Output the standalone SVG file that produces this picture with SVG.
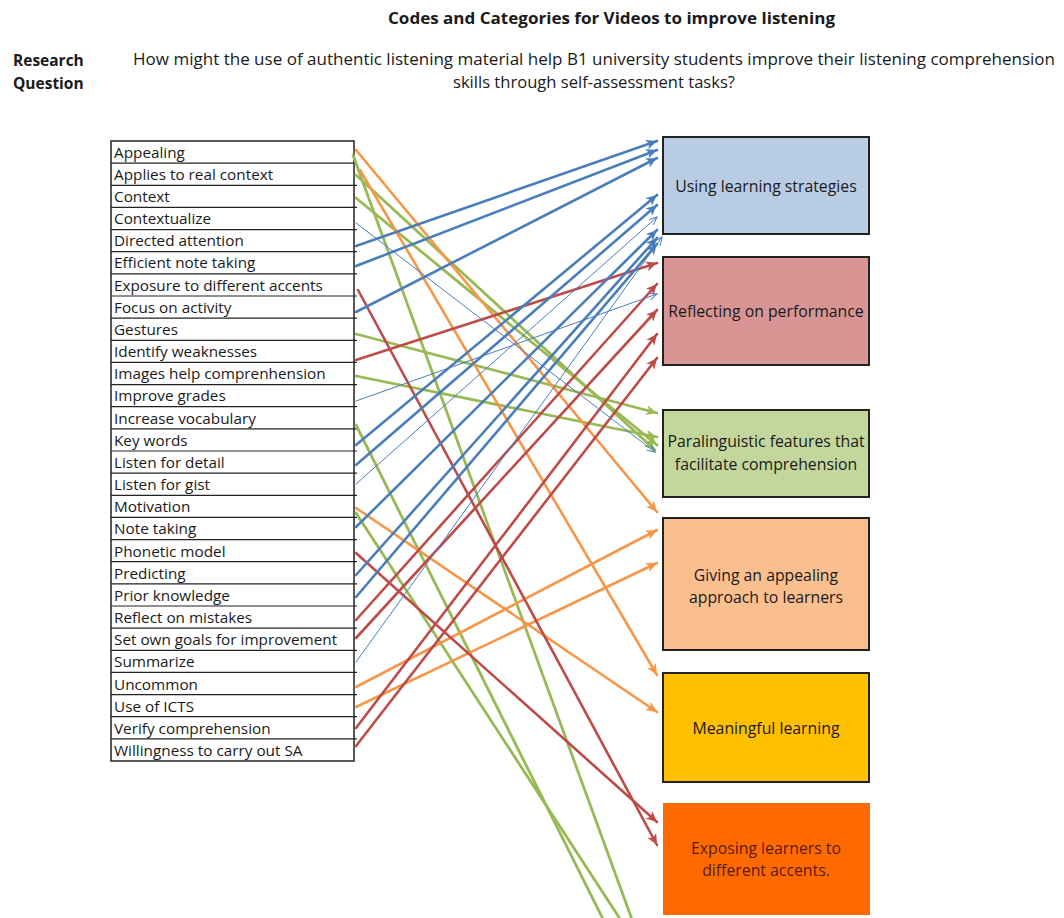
<svg xmlns="http://www.w3.org/2000/svg" width="1064" height="918" viewBox="0 0 1064 918">
<style>
.t{font-family:"Open Sans","Liberation Sans",sans-serif;fill:#1a1a1a}
.code{font-size:15.3px}
.bold{font-weight:bold}
.cat{font-size:15.8px;text-anchor:middle}
.sep{stroke:#222;stroke-width:1.2}
.box{stroke:#222;stroke-width:2}
.c{fill:none;stroke-linecap:round}
.b{stroke:#4a7ebb;stroke-width:2.6}
.bt{stroke:#4a7ebb;stroke-width:1}
.r{stroke:#be4b48;stroke-width:2.6}
.g{stroke:#98b954;stroke-width:2.8}
.o{stroke:#f79646;stroke-width:2.6}
</style>
<defs>
<marker id="ab" markerUnits="userSpaceOnUse" markerWidth="14" markerHeight="12" refX="11" refY="5" orient="auto"><path d="M0,0 L11,5 L0,10 L3,5 z" fill="#4a7ebb"/></marker>
<marker id="abt" markerUnits="userSpaceOnUse" markerWidth="10" markerHeight="8" refX="8" refY="3.5" orient="auto"><path d="M0,0 L8,3.5 L0,7" fill="none" stroke="#4a7ebb" stroke-width="1"/></marker>
<marker id="ar" markerUnits="userSpaceOnUse" markerWidth="14" markerHeight="12" refX="11" refY="5" orient="auto"><path d="M0,0 L11,5 L0,10 L3,5 z" fill="#be4b48"/></marker>
<marker id="ag" markerUnits="userSpaceOnUse" markerWidth="14" markerHeight="12" refX="11" refY="5" orient="auto"><path d="M0,0 L11,5 L0,10 L3,5 z" fill="#98b954"/></marker>
<marker id="ao" markerUnits="userSpaceOnUse" markerWidth="14" markerHeight="12" refX="11" refY="5" orient="auto"><path d="M0,0 L11,5 L0,10 L3,5 z" fill="#f79646"/></marker>
</defs>
<rect width="1064" height="918" fill="#ffffff"/>

<g id="header">
<text class="t bold" x="388" y="24" font-size="16" textLength="447" lengthAdjust="spacingAndGlyphs">Codes and Categories for  Videos to improve listening</text>
<text class="t bold" x="13" y="66" font-size="15.5">Research</text>
<text class="t bold" x="13" y="89" font-size="15.5">Question</text>
<text class="t" x="133" y="65" font-size="16" textLength="922" lengthAdjust="spacingAndGlyphs">How might the use of authentic listening material help B1 university students improve their listening comprehension</text>
<text class="t" x="453" y="88" font-size="16" textLength="282" lengthAdjust="spacingAndGlyphs">skills through self-assessment tasks?</text>
</g>

<g id="codes">
<rect x="111" y="141" width="243" height="620" fill="#fff" stroke="#222" stroke-width="1.5"/>
<g class="sep">
<line x1="111" y1="163.1" x2="357" y2="163.1"/><line x1="111" y1="185.3" x2="357" y2="185.3"/><line x1="111" y1="207.4" x2="357" y2="207.4"/><line x1="111" y1="229.6" x2="357" y2="229.6"/><line x1="111" y1="251.7" x2="357" y2="251.7"/><line x1="111" y1="273.9" x2="357" y2="273.9"/><line x1="111" y1="296" x2="357" y2="296"/><line x1="111" y1="318.1" x2="357" y2="318.1"/><line x1="111" y1="340.3" x2="357" y2="340.3"/><line x1="111" y1="362.4" x2="357" y2="362.4"/><line x1="111" y1="384.6" x2="357" y2="384.6"/><line x1="111" y1="406.7" x2="357" y2="406.7"/><line x1="111" y1="428.9" x2="357" y2="428.9"/><line x1="111" y1="451" x2="357" y2="451"/><line x1="111" y1="473.1" x2="357" y2="473.1"/><line x1="111" y1="495.3" x2="357" y2="495.3"/><line x1="111" y1="517.4" x2="357" y2="517.4"/><line x1="111" y1="539.6" x2="357" y2="539.6"/><line x1="111" y1="561.7" x2="357" y2="561.7"/><line x1="111" y1="583.9" x2="357" y2="583.9"/><line x1="111" y1="606" x2="357" y2="606"/><line x1="111" y1="628.1" x2="357" y2="628.1"/><line x1="111" y1="650.3" x2="357" y2="650.3"/><line x1="111" y1="672.4" x2="357" y2="672.4"/><line x1="111" y1="694.6" x2="357" y2="694.6"/><line x1="111" y1="716.7" x2="357" y2="716.7"/><line x1="111" y1="738.9" x2="357" y2="738.9"/>
</g>
<g class="t code">
<text x="114" y="157.5">Appealing</text>
<text x="114" y="179.5">Applies to real context</text>
<text x="114" y="201.5">Context</text>
<text x="114" y="224">Contextualize</text>
<text x="114" y="246">Directed attention</text>
<text x="114" y="268">Efficient note taking</text>
<text x="114" y="290.5">Exposure to different accents</text>
<text x="114" y="312.5">Focus on activity</text>
<text x="114" y="334.5">Gestures</text>
<text x="114" y="357">Identify weaknesses</text>
<text x="114" y="379">Images help comprenhension</text>
<text x="114" y="401">Improve grades</text>
<text x="114" y="423.5">Increase vocabulary</text>
<text x="114" y="445.5">Key words</text>
<text x="114" y="467.5">Listen for detail</text>
<text x="114" y="490">Listen for gist</text>
<text x="114" y="512">Motivation</text>
<text x="114" y="534">Note taking</text>
<text x="114" y="556.5">Phonetic model</text>
<text x="114" y="578.5">Predicting</text>
<text x="114" y="600.5">Prior knowledge</text>
<text x="114" y="623">Reflect on mistakes</text>
<text x="114" y="645">Set own goals for improvement</text>
<text x="114" y="667">Summarize</text>
<text x="114" y="689.5">Uncommon</text>
<text x="114" y="711.5">Use of ICTS</text>
<text x="114" y="733.5">Verify comprehension</text>
<text x="114" y="756">Willingness to carry out SA</text>
</g>
</g>

<g id="cat-strategies">
<rect class="box" x="663" y="137" width="206" height="97" fill="#b8cce4"/>
<text class="t cat" x="766" y="192">Using learning strategies</text>
</g>
<g id="cat-reflecting">
<rect class="box" x="663" y="257" width="206" height="108" fill="#d99594"/>
<text class="t cat" x="766" y="317">Reflecting on performance</text>
</g>
<g id="cat-paralinguistic">
<rect class="box" x="663" y="410" width="206" height="87" fill="#c3d69b"/>
<text class="t cat" x="766" y="447">Paralinguistic features that</text>
<text class="t cat" x="766" y="470">facilitate comprehension</text>
</g>
<g id="cat-appealing">
<rect class="box" x="663" y="518" width="206" height="132" fill="#fabf8f"/>
<text class="t cat" x="766" y="581">Giving an appealing</text>
<text class="t cat" x="766" y="603">approach to learners</text>
</g>
<g id="cat-meaningful">
<rect class="box" x="663" y="673" width="206" height="109" fill="#ffc000"/>
<text class="t cat" x="766" y="734">Meaningful learning</text>
</g>
<g id="cat-accents">
<rect x="663" y="803" width="207" height="112" fill="#ff6a00"/>
<text class="t cat" x="766" y="854" style="fill:#5a1a00">Exposing learners to</text>
<text class="t cat" x="766" y="876" style="fill:#5a1a00">different accents.</text>
</g>

<g id="connectors" class="c">
<!-- green -->
<line class="c g" x1="353" y1="155" x2="634" y2="925"/>
<line class="c g" x1="356" y1="425" x2="606" y2="925"/>
<line class="c g" x1="356" y1="513" x2="624" y2="925"/>
<line class="c g" x1="356" y1="175" x2="655" y2="450" marker-end="url(#ag)"/>
<line class="c g" x1="356" y1="198" x2="657" y2="445" marker-end="url(#ag)"/>
<line class="c g" x1="356" y1="334" x2="657" y2="413" marker-end="url(#ag)"/>
<line class="c g" x1="356" y1="376" x2="657" y2="437" marker-end="url(#ag)"/>
<!-- orange -->
<line class="c o" x1="356" y1="150" x2="657" y2="512" marker-end="url(#ao)"/>
<line class="c o" x1="360" y1="170" x2="657" y2="675" marker-end="url(#ao)"/>
<line class="c o" x1="356" y1="508" x2="657" y2="712" marker-end="url(#ao)"/>
<line class="c o" x1="356" y1="687" x2="657" y2="530" marker-end="url(#ao)"/>
<line class="c o" x1="356" y1="707" x2="657" y2="563" marker-end="url(#ao)"/>
<!-- red -->
<line class="c r" x1="356" y1="360" x2="657" y2="263" marker-end="url(#ar)"/>
<line class="c r" x1="358" y1="290" x2="657" y2="845" marker-end="url(#ar)"/>
<line class="c r" x1="356" y1="553" x2="657" y2="822" marker-end="url(#ar)"/>
<line class="c r" x1="356" y1="620" x2="657" y2="284" marker-end="url(#ar)"/>
<line class="c r" x1="356" y1="638" x2="657" y2="310" marker-end="url(#ar)"/>
<line class="c r" x1="356" y1="728" x2="657" y2="334" marker-end="url(#ar)"/>
<line class="c r" x1="356" y1="746" x2="657" y2="358" marker-end="url(#ar)"/>
<!-- blue -->
<line class="c b" x1="356" y1="246" x2="657" y2="141" marker-end="url(#ab)"/>
<line class="c b" x1="356" y1="266" x2="657" y2="150" marker-end="url(#ab)"/>
<line class="c b" x1="356" y1="312" x2="657" y2="158" marker-end="url(#ab)"/>
<line class="c b" x1="356" y1="445" x2="657" y2="195" marker-end="url(#ab)"/>
<line class="c b" x1="356" y1="465" x2="657" y2="205" marker-end="url(#ab)"/>
<line class="c b" x1="356" y1="527" x2="657" y2="230" marker-end="url(#ab)"/>
<line class="c b" x1="356" y1="575" x2="657" y2="238" marker-end="url(#ab)"/>
<line class="c b" x1="356" y1="597" x2="657" y2="244" marker-end="url(#ab)"/>
<line class="c bt" x1="356" y1="223" x2="655" y2="452" marker-end="url(#abt)"/>
<line class="c bt" x1="356" y1="401" x2="657" y2="294" marker-end="url(#abt)"/>
<line class="c bt" x1="356" y1="484" x2="657" y2="217" marker-end="url(#abt)"/>
<line class="c bt" x1="356" y1="662" x2="662" y2="237" marker-end="url(#abt)"/>
</g>
</svg>
